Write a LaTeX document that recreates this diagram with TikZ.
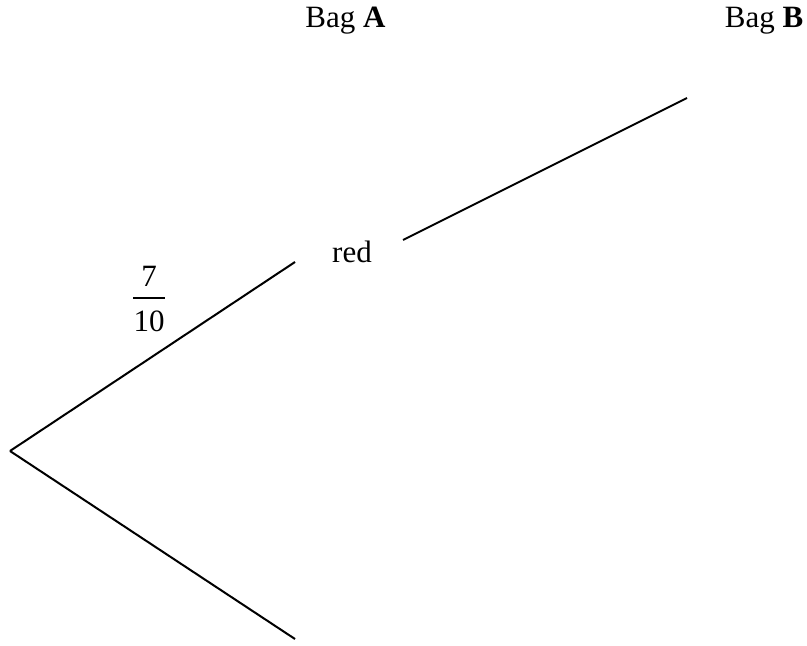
\documentclass[tikz,border=0pt]{standalone}
\usepackage{fontspec}
\setmainfont{Liberation Serif}
\begin{document}
\begin{tikzpicture}[x=0.5pt,y=-0.5pt,
  branch/.style={line width=1pt, line cap=butt},
  lbl/.style={font=\fontsize{15.5}{18}\selectfont, inner sep=0pt, anchor=base}]
\useasboundingbox (0,0) rectangle (807,646);
\node[lbl] (bagA) at (345.5,28) {Bag \textbf{A}};
\node[lbl] (bagB) at (764,28) {Bag \textbf{B}};
\coordinate (root) at (10,451);
\coordinate (redin) at (295,262);
\coordinate (lowend) at (295,639);
\coordinate (redout) at (403,240);
\coordinate (bend) at (687,98);
\node[lbl] (red) at (352,263) {red};
\draw[branch] (root) -- (redin);
\draw[branch] (root) -- (lowend);
\draw[branch] (redout) -- (bend);
\node[lbl] (num) at (149,286) {7};
\node[lbl] (den) at (149,331) {10};
\coordinate (barL) at (133,298);
\coordinate (barR) at (165,298);
\draw[line width=1pt] (barL) -- (barR);
\end{tikzpicture}
\end{document}
